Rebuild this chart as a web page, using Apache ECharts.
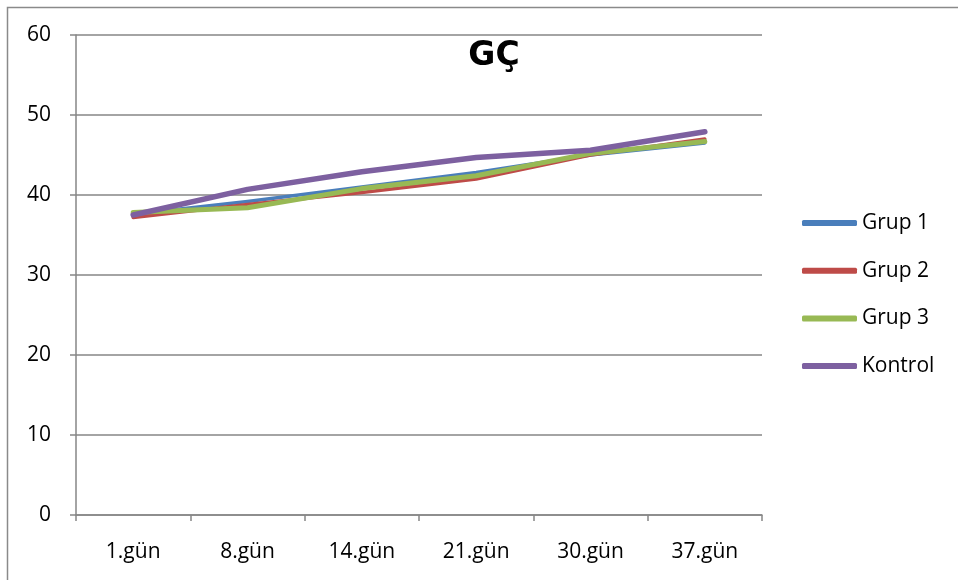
<!DOCTYPE html>
<html>
<head>
<meta charset="utf-8">
<script src="https://cdn.jsdelivr.net/npm/echarts@6/dist/echarts.min.js"></script>
<style>
  html, body { margin: 0; padding: 0; background: #fff; }
  #chart { width: 958px; height: 580px; }
</style>
</head>
<body>
<div id="chart"></div>
<script>
// Measurement days
var days = ['1.gün', '8.gün', '14.gün', '21.gün', '30.gün', '37.gün'];

// Group values per day
var grup1 = [37.6, 39.2, 41.0, 42.8, 45.0, 46.5];
var grup2 = [37.2, 38.8, 40.3, 42.0, 45.0, 47.0];
var grup3 = [37.8, 38.4, 40.8, 42.4, 45.2, 46.7];
var kontrol = [37.5, 40.7, 42.9, 44.7, 45.6, 47.9];

var seriesNames = ['Grup 1', 'Grup 2', 'Grup 3', 'Kontrol'];
var seriesData = [grup1, grup2, grup3, kontrol];
var seriesColors = ['#4a7ebb', '#be4b48', '#98b954', '#7d60a0'];
var seriesWidths = [3.5, 3.5, 5, 5.5];

var yTicks = { min: 0, max: 60, interval: 10 };

var font = '"Open Sans", Lato, sans-serif';
var chart = echarts.init(document.getElementById('chart'));

chart.setOption({
  animation: false,
  backgroundColor: '#ffffff',
  title: {
    text: 'GÇ',
    left: 489,
    top: 35,
    textAlign: 'center',
    textStyle: { fontFamily: '"DejaVu Sans", sans-serif', fontWeight: 'bold', fontSize: 33, color: '#000' }
  },
  graphic: [{
    type: 'rect',
    shape: { x: 7.5, y: 7.5, width: 1200, height: 1200 },
    style: { fill: 'none', stroke: '#8a8a8a', lineWidth: 1.5 },
    silent: true
  }],
  legend: {
    orient: 'vertical',
    left: 802,
    top: 211,
    padding: 0,
    icon: 'roundRect',
    itemWidth: 55,
    itemHeight: 6,
    itemGap: 23.7,
    data: seriesNames,
    textStyle: { fontFamily: font, fontSize: 21, color: '#000', lineHeight: 24 }
  },
  grid: { left: 76, right: 196, top: 35, bottom: 65 },
  xAxis: {
    type: 'category',
    data: days,
    boundaryGap: true,
    axisLine: { lineStyle: { color: '#868686', width: 1.5 } },
    axisTick: { show: true, length: 6, alignWithLabel: false, lineStyle: { color: '#868686', width: 1.5 } },
    axisLabel: { fontFamily: font, fontSize: 21, color: '#000', margin: 27 },
    splitLine: { show: false }
  },
  yAxis: {
    type: 'value',
    min: yTicks.min,
    max: yTicks.max,
    interval: yTicks.interval,
    axisLine: { show: true, lineStyle: { color: '#868686', width: 1.5 } },
    axisTick: { show: true, length: 6, lineStyle: { color: '#868686', width: 1.5 } },
    axisLabel: { fontFamily: font, fontSize: 21, color: '#000', margin: 25 },
    splitLine: { show: true, lineStyle: { color: '#868686', width: 1.5 } }
  },
  series: seriesNames.map(function (name, i) {
    return {
      name: name,
      type: 'line',
      data: seriesData[i],
      symbol: 'none',
      color: seriesColors[i],
      lineStyle: { width: seriesWidths[i], color: seriesColors[i], cap: 'round', join: 'round' },
      itemStyle: { color: seriesColors[i] },
      z: 2 + i
    };
  })
});
</script>
</body>
</html>
